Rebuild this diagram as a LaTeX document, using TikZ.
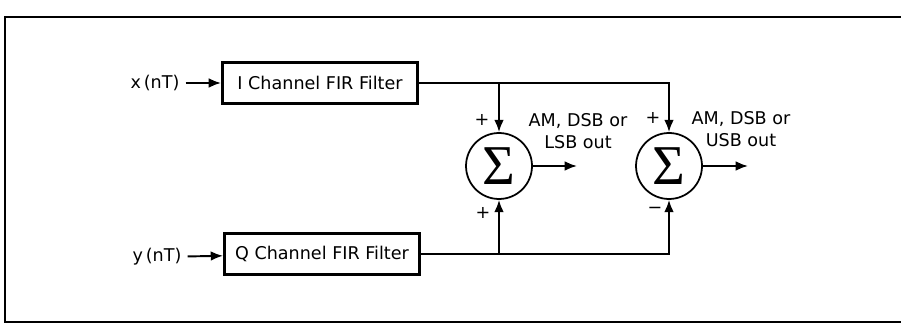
\documentclass[tikz,border=0pt]{standalone}
\usepackage{fontspec}
\setmainfont{DejaVu Sans}
\newfontfamily\sigmafont{Liberation Serif}
\usetikzlibrary{arrows.meta}

\begin{document}
\begin{tikzpicture}[x=0.02cm,y=-0.02cm]
\tikzstyle{every node}=[font=\fontsize{10}{12.5}\selectfont];
\tikzstyle{fir}=[draw,line width=1.7pt,minimum width=3.9cm,minimum height=0.82cm,inner sep=0pt];
\tikzstyle{summer}=[draw,circle,line width=1pt,minimum size=1.32cm,inner sep=0pt,font=\sigmafont\fontsize{32}{32}\selectfont];
\tikzstyle{sign}=[inner sep=0.5pt];
\tikzstyle{arr}=[line width=1.1pt,-{Latex[length=7pt,width=5.5pt]}];
\clip (0,0) rectangle (901,327);
\draw[line width=1.2pt] (5,17) rectangle (950,322);
\node(xin) at (155,83) {x\,(nT)};
\node(yin) at (157,257) {y\,(nT)};
\node[fir](ifir) at (320,83) {I Channel FIR Filter};
\node[fir](qfir) at (322,254) {Q Channel FIR Filter};
\node[summer](sum1) at (499,166) {Σ};
\node[summer](sum2) at (669,166) {Σ};
\coordinate(o1) at (577,166);
\coordinate(o2) at (748,166);
\node[sign](p1) at (482,120) {+};
\node[sign](p2) at (483,213) {+};
\node[sign](p3) at (653,118) {+};
\node[sign](m1) at (655,210) {−};
\node[align=center](lsb) at (578,131) {AM, DSB or\\LSB out};
\node[align=center](usb) at (741,129) {AM, DSB or\\USB out};
\draw[arr](xin)--(ifir);
\draw[arr](yin)--(qfir);
\draw[arr](ifir.east)-|(sum2.north);
\draw[arr](ifir.east-|sum1.north)--(sum1.north);
\draw[arr](qfir.east)-|(sum2.south);
\draw[arr](qfir.east-|sum1.south)--(sum1.south);
\draw[arr](sum1.east)--(o1);
\draw[arr](sum2.east)--(o2);
\end{tikzpicture}
\end{document}
